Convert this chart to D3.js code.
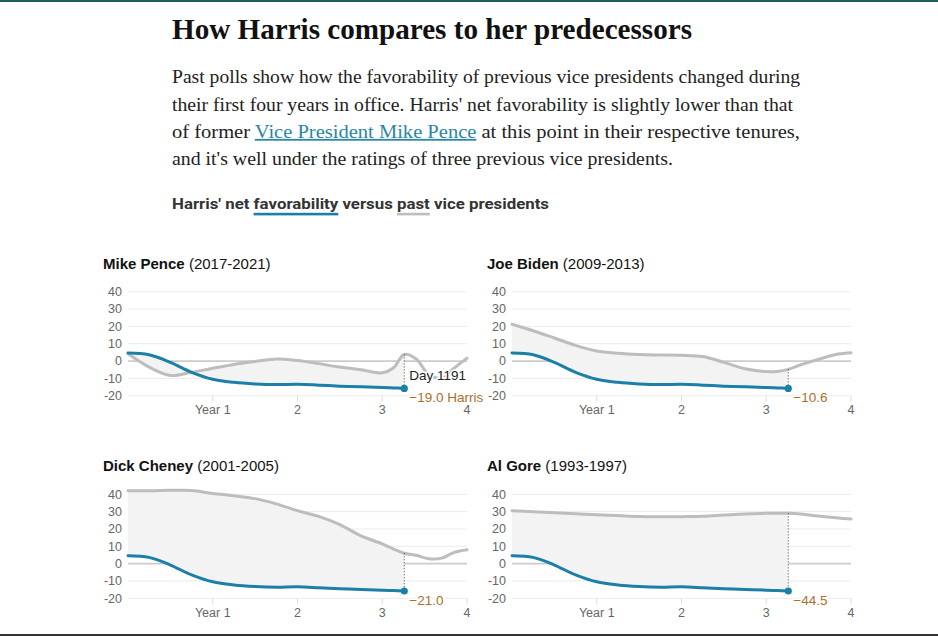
<!DOCTYPE html>
<html>
<head>
<meta charset="utf-8">
<script src="https://cdn.jsdelivr.net/npm/d3@7"></script>
<style>
  body { margin: 0; background: #fff; }
  svg { display: block; }
</style>
</head>
<body>
<script>
// Shared time grid (years into the term) used by every series
const years = [0, 0.25, 0.5, 0.75, 1, 1.25, 1.5, 1.75, 2, 2.25, 2.5, 2.75, 3, 3.13, 3.26, 3.4, 3.55, 3.7, 3.85, 4];

// Harris net favorability, up to day 1191
const harris = [4.6, 3.6, -0.8, -6.5, -10.5, -12.3, -13.2, -13.6, -13.4, -13.9, -14.5, -14.9, -15.3, -15.5, -15.8];

// Predecessors' net favorability over the same grid
const pence  = [4.2, -3.5, -8.3, -6.5, -4.2, -2, -0.3, 1.2, 0.3, -1.5, -3.5, -5, -6.8, -4, 3.8, 1.2, -7.8, -9.8, -4, 1.7];
const biden  = [21.2, 17.5, 13.3, 9, 5.8, 4.5, 3.8, 3.5, 3.3, 2.6, -0.8, -4.5, -6.1, -6, -4.8, -2.3, 0, 2.2, 4, 4.8];
const cheney = [42.1, 42, 42.3, 42.2, 40.5, 39.2, 37.5, 34.5, 30.5, 27.3, 22.5, 16, 11.4, 8.5, 6, 4.8, 2.8, 3.2, 6.5, 8];
const gore   = [30.5, 30, 29.4, 28.8, 28.2, 27.7, 27.2, 27, 27.1, 27.3, 28, 28.7, 29, 29.1, 29, 28.6, 27.8, 27, 26.3, 25.7];

const vpNames = ["Mike Pence", "Joe Biden", "Dick Cheney", "Al Gore"];
const vpTerms = ["(2017-2021)", "(2009-2013)", "(2001-2005)", "(1993-1997)"];
const vpSeries = [pence, biden, cheney, gore];
const gapLabels = ["\u221219.0 Harris", "\u221210.6", "\u221221.0", "\u221244.5"];
const dayLabel = "Day 1191";

const yTicks = [40, 30, 20, 10, 0, -10, -20];
const yTickLabels = ["40", "30", "20", "10", "0", "-10", "-20"];
const xTicks = [1, 2, 3, 4];
const xTickLabels = ["Year 1", "2", "3", "4"];

const W = 938, H = 636;
const teal = "#1b7fa8", grey = "#bdbdbd", brown = "#a8702a";
const sans = "'Liberation Sans', Arial, sans-serif";
const serif = "'Liberation Serif', 'Times New Roman', serif";

const svg = d3.select("body").append("svg")
  .attr("width", W)
  .attr("height", H);

// page rules
svg.append("rect").attr("x", 0).attr("y", 0).attr("width", W).attr("height", 2).attr("fill", "#1f5f61");
svg.append("rect").attr("x", 0).attr("y", 634).attr("width", W).attr("height", 2).attr("fill", "#333");

// headline
svg.append("text")
  .attr("x", 172).attr("y", 39)
  .attr("font-family", serif)
  .attr("font-weight", 700)
  .attr("font-size", 30)
  .attr("textLength", 520)
  .attr("lengthAdjust", "spacingAndGlyphs")
  .attr("fill", "#111")
  .text("How Harris compares to her predecessors");

// intro paragraph
const para = [
  [{t: "Past polls show how the favorability of previous vice presidents changed during"}],
  [{t: "their first four years in office. Harris' net favorability is slightly lower than that"}],
  [{t: "of former "}, {t: "Vice President Mike Pence", link: true}, {t: " at this point in their respective tenures,"}],
  [{t: "and it's well under the ratings of three previous vice presidents."}]
];
const paraWidths = [628, 621, 628, 501];
para.forEach((line, i) => {
  const t = svg.append("text")
    .attr("x", 172).attr("y", 83.3 + i * 27.3)
    .attr("font-family", serif)
    .attr("font-size", 18)
    .attr("fill", "#222")
    .attr("textLength", paraWidths[i])
    .attr("lengthAdjust", "spacingAndGlyphs");
  line.forEach(seg => {
    const s = t.append("tspan").text(seg.t);
    if (seg.link) s.attr("fill", "#2a86a6").attr("text-decoration", "underline");
  });
});

// chart subtitle with coloured underlines
const subStr = "Harris' net favorability versus past vice presidents";
const sub = svg.append("text")
  .attr("x", 172).attr("y", 209)
  .attr("font-family", "'Liberation Sans Narrow', 'Roboto', sans-serif")
  .attr("font-weight", 700)
  .attr("font-size", 15.5)
  .attr("fill", "#333")
  .attr("textLength", 377)
  .attr("lengthAdjust", "spacingAndGlyphs")
  .text(subStr);
[["favorability", teal], ["past", grey]].forEach(([word, col]) => {
  const i0 = subStr.indexOf(word), i1 = i0 + word.length - 1;
  const a = sub.node().getExtentOfChar(i0), b = sub.node().getExtentOfChar(i1);
  svg.append("rect")
    .attr("x", a.x).attr("y", 212.8)
    .attr("width", b.x + b.width - a.x).attr("height", 2.6)
    .attr("fill", col);
});

// small multiples
const plotW = 339, plotH = 104;
const colX = [128, 512], rowY = [291.7, 494.3];

const x = d3.scaleLinear().domain([0, 4]).range([0, plotW]);
const y = d3.scaleLinear().domain([-20, 40]).range([plotH, 0]);

const nH = harris.length;
const curve = d3.curveCatmullRom.alpha(0.5);
const lineGen = d3.line().x((d, i) => x(years[i])).y(d => y(d)).curve(curve);

vpSeries.forEach((series, k) => {
  const g = svg.append("g")
    .attr("transform", `translate(${colX[k % 2]},${rowY[Math.floor(k / 2)]})`);

  // panel title
  const title = g.append("text")
    .attr("x", -25).attr("y", -23)
    .attr("font-family", sans)
    .attr("font-size", 15)
    .attr("fill", "#121212");
  title.append("tspan").attr("font-weight", 700).text(vpNames[k]);
  title.append("tspan").text(" " + vpTerms[k]);

  // grid + y labels
  g.selectAll(".grid").data(yTicks).enter().append("line")
    .attr("x1", 0).attr("x2", plotW)
    .attr("y1", d => y(d)).attr("y2", d => y(d))
    .attr("stroke", d => d === 0 ? "#cccccc" : "#ebebeb")
    .attr("stroke-width", d => d === 0 ? 1.8 : 1);
  g.selectAll(".ylab").data(yTicks).enter().append("text")
    .attr("x", -6).attr("y", d => y(d)).attr("dy", "0.35em")
    .attr("text-anchor", "end")
    .attr("font-family", sans).attr("font-size", 12.5)
    .attr("fill", "#666")
    .text((d, i) => yTickLabels[i]);

  // x ticks
  g.selectAll(".xt").data(xTicks).enter().append("line")
    .attr("x1", d => x(d)).attr("x2", d => x(d))
    .attr("y1", plotH).attr("y2", plotH + 6)
    .attr("stroke", "#ddd");
  g.selectAll(".xl").data(xTicks).enter().append("text")
    .attr("x", d => x(d)).attr("y", plotH + 18.5)
    .attr("text-anchor", "middle")
    .attr("font-family", sans).attr("font-size", 12.5)
    .attr("fill", "#666")
    .text((d, i) => xTickLabels[i]);

  // shaded gap between predecessor and Harris
  const area = d3.area()
    .x((d, i) => x(years[i]))
    .y0((d, i) => y(harris[i]))
    .y1(d => y(d))
    .curve(curve);
  g.append("path")
    .attr("d", area(series.slice(0, nH)))
    .attr("fill", "#f3f3f3");

  g.append("path")
    .attr("d", lineGen(series))
    .attr("fill", "none")
    .attr("stroke", grey)
    .attr("stroke-width", 3)
    .attr("stroke-linecap", "round");

  const xe = x(years[nH - 1]);
  const ye = y(harris[nH - 1]);
  g.append("line")
    .attr("x1", xe).attr("x2", xe)
    .attr("y1", y(series[nH - 1])).attr("y2", ye)
    .attr("stroke", "#444")
    .attr("stroke-dasharray", "1,2");

  g.append("path")
    .attr("d", lineGen(harris))
    .attr("fill", "none")
    .attr("stroke", teal)
    .attr("stroke-width", 3)
    .attr("stroke-linecap", "round");

  g.append("circle")
    .attr("cx", xe).attr("cy", ye)
    .attr("r", 3.6)
    .attr("fill", teal);

  const halo = sel => sel
    .attr("font-family", sans).attr("font-size", 13.5)
    .attr("stroke", "#fff").attr("stroke-width", 3)
    .attr("paint-order", "stroke");
  g.append("text")
    .attr("x", xe + 5).attr("y", ye + 13.5)
    .attr("fill", brown)
    .call(halo)
    .text(gapLabels[k]);
  if (k === 0) {
    g.append("text")
      .attr("x", xe + 5).attr("y", ye - 8)
      .attr("fill", "#222")
      .call(halo)
      .text(dayLabel);
  }
});
</script>
</body>
</html>
